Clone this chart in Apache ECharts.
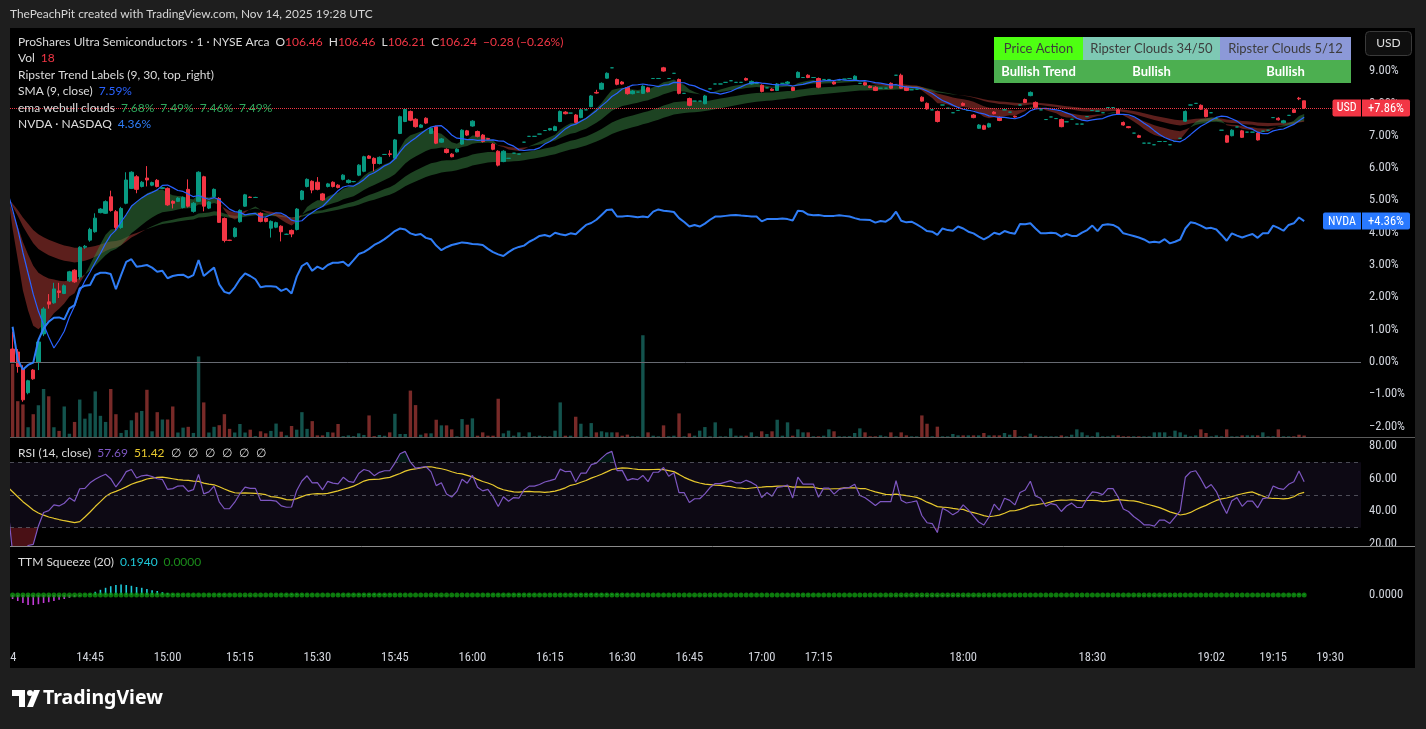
<!DOCTYPE html>
<html><head><meta charset="utf-8">
<script src="https://cdn.jsdelivr.net/npm/echarts@6/dist/echarts.min.js"></script>
<style>html,body{margin:0;padding:0;background:#1e1e1e;}#c{width:1426px;height:729px;}</style>
</head><body><div id="c"></div>
<script>
// ---------- DATA (percent change vs first bar close) ----------
// candles: [open, close, low, high]
const candles = [
[0.40,0.00,-0.02,0.94],[0.31,-0.14,-0.33,0.40],[-0.20,-1.17,-1.23,-0.10],[-0.95,-0.58,-1.00,-0.55],[-0.25,-0.52,-0.55,-0.22],
[0.00,0.62,-0.25,0.70],[0.87,1.64,0.80,1.70],[1.86,1.79,1.65,2.10],[1.83,2.26,1.80,2.45],[2.20,2.15,1.98,2.45],
[2.12,2.36,2.10,2.40],[2.51,2.79,2.48,2.82],[2.84,2.48,2.45,2.87],[2.63,3.55,2.55,3.58],[3.55,3.58,3.50,3.62],
[3.77,4.10,3.72,4.15],[4.03,4.45,4.00,4.60],[4.62,4.73,4.60,4.76],[4.60,4.96,4.58,5.00],[5.11,4.69,4.65,5.30],
[4.65,4.16,4.05,4.70],[4.16,4.75,4.12,4.80],[4.91,5.63,4.88,5.87],[5.37,5.87,5.35,5.90],[5.73,5.34,5.22,5.78],
[5.43,5.56,5.40,5.60],[5.69,5.63,5.43,6.06],[5.47,5.55,5.44,5.58],[5.62,5.43,5.40,5.66],[5.37,5.39,5.35,5.41],
[5.37,4.86,4.83,5.40],[4.97,4.91,4.75,5.00],[4.97,5.07,4.95,5.10],[4.78,5.09,4.75,5.12],[5.34,4.82,4.78,5.65],
[4.66,4.91,4.62,4.95],[4.97,5.87,4.95,5.90],[5.73,4.82,4.66,5.76],[4.76,4.95,4.73,4.98],[5.12,5.34,5.10,5.37],
[5.06,4.32,4.30,5.10],[4.44,3.76,3.70,4.47],[3.77,3.76,3.74,3.78],[3.88,4.14,3.85,4.17],[4.34,4.69,4.31,4.72],
[4.82,5.17,4.80,5.20],[5.10,5.09,5.08,5.12],[5.09,5.09,5.08,5.11],[4.60,4.35,4.32,4.63],[4.44,4.35,4.32,4.47],
[4.14,4.35,3.85,4.38],[4.17,4.31,4.14,4.34],[4.20,4.03,3.73,4.23],[3.95,3.95,3.93,3.97],[4.07,3.96,3.86,4.10],
[4.10,4.73,4.07,4.76],[5.03,5.29,5.00,5.32],[5.43,5.65,5.40,5.68],[5.59,5.32,5.22,5.62],[5.56,5.34,5.31,5.72],
[5.20,5.01,4.98,5.23],[5.43,5.51,5.40,5.54],[5.56,5.43,5.40,5.59],[5.47,5.40,5.37,5.50],[5.65,5.78,5.62,5.81],
[5.55,5.62,5.52,5.65],[5.58,5.58,5.56,5.60],[5.78,6.09,5.75,6.12],[5.90,6.35,5.87,6.38],[6.37,6.30,6.28,6.40],
[6.30,6.14,5.90,6.33],[6.14,6.33,6.11,6.36],[6.42,6.42,6.42,6.42],[6.44,6.42,6.35,6.55],[6.30,6.87,6.28,6.90],
[7.07,7.59,7.05,7.62],[7.44,7.81,7.42,7.84],[7.75,7.48,7.45,7.78],[7.51,7.28,7.25,7.54],[7.26,7.33,7.24,7.36],
[7.54,7.39,7.36,7.57],[7.07,7.23,7.05,7.26],[7.28,6.77,6.74,7.31],[6.80,6.90,6.78,6.93],[6.58,6.48,6.45,6.61],
[6.43,6.35,6.33,6.46],[6.50,6.58,6.48,6.61],[6.74,7.17,6.72,7.20],[7.15,7.02,6.99,7.18],[7.30,7.45,7.28,7.48],
[7.13,6.98,6.95,7.16],[7.02,6.82,6.79,7.05],[6.91,6.89,6.87,6.93],[6.74,6.58,6.55,6.77],[6.52,6.09,6.05,6.55],
[6.20,6.52,6.18,6.55],[6.30,6.30,6.30,6.30],[6.46,6.46,6.46,6.46],[6.43,6.43,6.43,6.43],[6.80,6.80,6.80,6.80],
[6.98,6.98,6.98,6.98],[6.98,6.98,6.98,6.98],[7.05,7.05,7.05,7.05],[7.16,7.16,7.16,7.16],[7.18,7.22,7.16,7.24],
[7.16,7.28,7.14,7.31],[7.44,7.75,7.42,7.78],[7.73,7.68,7.66,7.76],[7.70,7.70,7.70,7.70],[7.64,7.41,7.38,7.67],
[7.56,7.80,7.54,7.83],[7.80,7.80,7.80,7.80],[7.90,8.23,7.88,8.26],[8.34,8.32,8.30,8.42],[8.44,8.62,8.42,8.65],
[8.78,8.93,8.76,8.96],[9.10,9.10,9.10,9.10],[8.74,8.59,8.56,8.77],[8.66,8.60,8.58,8.69],[8.49,8.30,8.27,8.52],
[8.30,8.38,8.28,8.41],[8.35,8.35,8.35,8.35],[8.31,8.53,8.29,8.56],[8.48,8.36,8.34,8.51],[8.77,8.77,8.77,8.77],
[8.77,8.77,8.77,8.77],[9.10,9.00,8.98,9.13],[8.77,8.77,8.77,8.77],[8.93,8.93,8.93,8.93],[8.74,8.31,8.28,8.77],
[8.31,8.31,8.31,8.31],[8.15,7.94,7.91,8.18],[8.07,8.07,8.07,8.07],[8.07,8.07,8.07,8.07],[7.99,8.23,7.97,8.26],
[8.45,8.45,8.45,8.45],[8.60,8.60,8.60,8.60],[8.60,8.60,8.60,8.60],[8.65,8.65,8.65,8.65],[8.70,8.70,8.70,8.70],
[8.65,8.65,8.65,8.65],[8.65,8.65,8.65,8.65],[8.77,8.72,8.70,8.80],[8.60,8.68,8.58,8.71],[8.62,8.62,8.62,8.62],
[8.56,8.37,8.34,8.59],[8.48,8.48,8.48,8.48],[8.44,8.40,8.38,8.47],[8.40,8.60,8.38,8.63],[8.62,8.62,8.62,8.62],
[8.62,8.66,8.60,8.69],[8.49,8.40,8.38,8.52],[8.80,8.96,8.78,8.99],[8.80,8.80,8.80,8.80],[8.87,8.80,8.78,8.90],
[8.80,8.80,8.80,8.80],[8.77,8.50,8.47,8.80],[8.74,8.74,8.74,8.74],[8.74,8.74,8.74,8.74],[8.66,8.60,8.58,8.69],
[8.72,8.72,8.72,8.72],[8.75,8.75,8.75,8.75],[8.77,8.77,8.77,8.77],[8.73,8.84,8.71,8.87],[8.62,8.62,8.62,8.62],
[8.64,8.57,8.55,8.67],[8.53,8.49,8.47,8.56],[8.50,8.40,8.38,8.53],[8.47,8.47,8.47,8.47],[8.47,8.47,8.47,8.47],
[8.62,8.47,8.45,8.65],[8.87,8.87,8.87,8.87],[8.87,8.47,8.45,8.92],[8.50,8.40,8.38,8.53],[8.42,8.42,8.42,8.42],
[8.44,8.44,8.44,8.44],[8.19,8.07,8.05,8.22],[8.00,7.83,7.80,8.03],[7.80,7.80,7.80,7.80],[7.75,7.44,7.41,7.78],
[7.95,7.95,7.95,7.95],[7.85,7.85,7.85,7.85],[7.71,7.71,7.71,7.71],[7.78,7.78,7.78,7.78],[8.00,7.94,7.92,8.03],
[7.78,7.78,7.78,7.78],[7.64,7.56,7.54,7.67],[7.23,7.33,7.21,7.36],[7.31,7.20,7.18,7.34],[7.27,7.37,7.25,7.40],
[7.73,7.68,7.66,7.76],[7.57,7.47,7.45,7.60],[7.80,7.80,7.80,7.80],[7.73,7.73,7.73,7.73],[7.60,7.58,7.56,7.62],
[7.95,7.95,7.95,7.95],[8.12,8.03,8.01,8.15],[8.24,8.34,8.22,8.37],[8.03,7.88,7.86,8.06],[7.80,7.80,7.80,7.80],
[7.50,7.50,7.50,7.50],[7.58,7.58,7.58,7.58],[7.53,7.53,7.53,7.53],[7.50,7.28,7.26,7.53],[7.43,7.43,7.43,7.43],
[7.51,7.51,7.51,7.51],[7.36,7.36,7.36,7.36],[7.36,7.36,7.36,7.36],[7.59,7.59,7.59,7.59],[7.78,7.78,7.78,7.78],
[7.76,7.76,7.76,7.76],[7.71,7.71,7.71,7.71],[7.87,7.87,7.87,7.87],[7.87,7.87,7.87,7.87],[7.80,7.67,7.65,7.83],
[7.41,7.33,7.31,7.44],[7.28,7.25,7.23,7.30],[7.08,7.08,7.08,7.08],[7.00,6.95,6.93,7.03],[6.77,6.77,6.77,6.77],
[6.77,6.77,6.77,6.77],[6.72,6.72,6.72,6.72],[6.82,6.82,6.82,6.82],[6.82,6.82,6.82,6.82],[6.72,6.72,6.72,6.72],
[6.82,6.82,6.82,6.82],[6.92,6.92,6.92,6.92],[7.45,7.75,7.43,7.78],[7.95,7.95,7.95,7.95],[8.00,8.00,8.00,8.00],
[7.94,7.82,7.80,7.97],[7.80,7.59,7.57,7.83],[7.71,7.71,7.71,7.71],[7.53,7.53,7.53,7.53],[7.17,7.17,7.17,7.17],
[7.00,6.80,6.78,7.03],[7.00,7.17,6.98,7.20],[7.27,7.27,7.27,7.27],[7.15,6.95,6.93,7.18],[7.11,7.11,7.11,7.11],
[7.11,7.11,7.11,7.11],[7.08,6.87,6.85,7.11],[7.14,7.14,7.14,7.14],[7.17,7.17,7.17,7.17],[7.56,7.56,7.56,7.56],
[7.54,7.49,7.47,7.57],[7.40,7.46,7.38,7.49],[7.63,7.63,7.63,7.63],[7.80,7.72,7.70,7.83],[8.16,8.14,8.10,8.20],
[8.08,7.86,7.83,8.08]
];
const volume = [
900,440,400,120,280,390,590,500,120,75,375,40,185,460,225,290,560,260,185,590,
280,50,85,205,300,320,580,70,305,215,215,375,55,115,125,50,990,425,55,125,
145,280,100,55,160,55,90,10,70,45,75,165,65,20,135,90,305,100,195,20,
20,60,55,160,10,20,10,45,25,265,10,25,15,57,285,37,37,570,392,28,
45,45,212,143,143,94,8,220,151,229,16,57,16,16,470,45,78,16,57,8,
57,8,16,8,8,78,425,16,16,249,163,8,171,57,70,57,57,57,16,29,
8,8,1250,57,16,8,143,8,16,290,8,45,16,78,122,8,180,8,8,106,
16,16,16,57,8,70,37,70,212,16,180,16,94,57,57,8,8,16,94,70,
8,8,10,49,106,57,8,8,20,8,57,8,57,20,8,8,265,163,8,127,
8,8,37,20,20,20,20,20,49,20,20,20,49,28,86,8,8,41,20,8,
8,8,8,20,8,28,94,57,20,8,57,8,8,20,20,8,8,8,8,8,
8,57,57,57,8,78,57,28,8,20,94,49,8,20,8,94,8,8,20,20,
20,20,57,8,8,94,8,8,8,28,18
];
const nvda = [
1.09,0.06,-0.23,-0.09,-0.02,0.68,1.04,1.25,1.37,1.38,1.32,1.66,1.76,2.28,2.36,2.38,2.69,2.76,2.76,2.72,
2.25,2.69,3.10,3.18,2.95,2.97,3.00,2.92,2.79,2.82,2.59,2.66,2.69,2.70,2.61,2.69,3.15,2.66,2.79,2.92,
2.40,2.17,2.12,2.31,2.56,2.74,2.66,2.56,2.31,2.34,2.34,2.33,2.20,2.27,2.12,2.64,2.97,3.07,2.82,2.95,
2.87,3.00,3.07,3.07,3.10,2.97,3.15,3.34,3.40,3.50,3.62,3.70,3.80,3.92,4.05,4.13,4.10,3.98,3.93,3.96,
3.84,3.80,3.60,3.46,3.55,3.62,3.66,3.70,3.68,3.65,3.64,3.62,3.50,3.40,3.33,3.28,3.40,3.50,3.56,3.60,
3.72,3.80,3.90,3.93,3.88,4.00,3.95,3.92,3.98,3.95,4.10,4.24,4.30,4.40,4.55,4.70,4.72,4.50,4.50,4.52,
4.50,4.48,4.50,4.48,4.65,4.72,4.68,4.66,4.64,4.45,4.33,4.19,4.24,4.19,4.28,4.40,4.50,4.50,4.52,4.54,
4.55,4.53,4.52,4.50,4.50,4.35,4.42,4.42,4.42,4.44,4.42,4.38,4.68,4.66,4.56,4.54,4.55,4.52,4.52,4.52,
4.54,4.52,4.50,4.45,4.41,4.40,4.39,4.31,4.36,4.34,4.44,4.65,4.37,4.32,4.34,4.26,4.16,4.05,4.03,3.93,
4.13,4.08,4.06,4.19,4.13,4.03,3.98,3.88,3.79,3.88,4.00,3.95,4.05,4.00,3.97,4.27,4.26,4.29,4.13,3.98,
3.98,4.00,3.98,3.88,3.96,3.90,3.90,4.00,4.08,4.22,4.05,4.24,4.26,4.24,4.16,3.98,3.94,3.90,3.85,3.79,
3.70,3.72,3.70,3.80,3.67,3.72,3.79,4.13,4.32,4.29,4.22,4.13,4.15,4.10,3.93,3.75,3.98,3.91,3.85,3.91,
3.96,3.84,3.98,3.98,4.22,4.15,4.06,4.24,4.29,4.47,4.36
];
const ttm = [
-1.0,-1.5,-2.0,-2.5,-2.5,-2.3,-2.0,-1.8,-1.5,-1.2,-1.0,-0.7,-0.5,-0.3,0.1,0.3,0.8,1.3,1.8,2.2,
2.5,2.6,2.5,2.3,2.0,1.8,1.5,1.2,1.0,0.7,0.5,0.3,0.2,
0.15,0.12,0.10,0.08,0.06,0.10,0.15,0.20,0.18,0.12,0.05,-0.05,-0.10,-0.15,-0.12,-0.08,-0.05,0.04,0.10,0.15,
0.20,0.25,0.22,0.18,0.12,0.10,0.08,0.05,0.05,0.08,0.12,0.15,0.18,0.20,0.22,0.25,0.28,0.30,0.26,0.22,
0.18,0.15,0.12,0.10,0.06,0.03,-0.03,-0.06,-0.10,-0.12,-0.14,-0.12,-0.10,-0.08,-0.05,-0.03,0.03,0.05,0.08,0.10,
0.12,0.14,0.16,0.18,0.20,0.22,0.20,0.18,0.16,0.14,0.12,0.10,0.12,0.15,0.18,0.20,0.24,0.26,0.28,0.30,
0.32,0.30,0.28,0.26,0.22,0.18,0.15,0.12,0.10,0.08,0.06,0.05,0.06,0.08,0.06,0.04,0.02,-0.02,-0.05,-0.08,
-0.10,-0.12,-0.10,-0.08,-0.06,-0.04,-0.02,0.02,0.04,0.06,0.08,0.10,0.08,0.06,0.05,0.04,0.05,0.06,0.08,0.10,
0.12,0.10,0.08,0.06,0.05,0.04,0.03,0.02,0.02,0.03,0.02,-0.02,-0.04,-0.06,-0.08,-0.10,-0.12,-0.14,-0.16,-0.18,
-0.20,-0.22,-0.24,-0.26,-0.28,-0.30,-0.30,-0.28,-0.26,-0.24,-0.22,-0.20,-0.18,-0.16,-0.15,-0.14,-0.12,-0.10,-0.08,-0.06,
-0.05,-0.04,-0.03,-0.02,-0.02,-0.03,-0.04,-0.05,-0.06,-0.07,-0.08,-0.07,-0.06,-0.05,-0.04,-0.03,-0.02,-0.02,-0.03,-0.04,
-0.05,-0.06,-0.07,-0.08,-0.10,-0.12,-0.14,-0.15,-0.16,-0.15,-0.14,-0.12,-0.10,-0.06,-0.03,0.02,0.04,0.05,0.04,0.03,
0.02,-0.02,-0.04,-0.05,-0.04,-0.03,-0.02,-0.02,-0.03,-0.02,0.02,0.04,0.06,0.08,0.10,0.12,0.16,0.194
];
// estimated state carried in from the previous session (lines enter the view at ~5%)
const prevCloses = [5.2,5.3,5.3,5.2,5.3,5.4,5.3,5.3,5.3];
const emaLengths = [8,21,34,50];
const emaSeeds = [5.3,5.1,5.1,5.1];
const rsiSeed = [0.09,0.11];
const rsiPrior = [56,57,55,54,56,57,58,56,55,54,55,56,55];
// axis ticks
const timeTickIdx = [-0.45,15,30,44,59,74,89,104,118,131,145,156,184,209,232,244,255];
const timeTickLabels = ['14','14:45','15:00','15:15','15:30','15:45','16:00','16:15','16:30','16:45','17:00','17:15','18:00','18:30','19:02','19:15','19:30'];
const pctTicks = [-2,-1,0,1,2,3,4,5,6,7,8,9];
const rsiTicks = [20,40,60,80];
const ttmTicks = [0];
const tableHead = ['Price Action','Ripster Clouds 34/50','Ripster Clouds 5/12'];
const tableVals = ['Bullish Trend','Bullish','Bullish'];

// ---------- indicators from the closes ----------
const N = candles.length;
const closes = candles.map(c => c[1]);
function sma(len){
  const all = prevCloses.concat(closes), P = prevCloses.length, out = [];
  for (let i = -1; i < N; i++){ const j = i + P; let s = 0; for (let k = j-len+1; k <= j; k++) s += all[k]; out.push([i, s/len]); }
  return out;
}
function ema(len, seed){
  const k = 2/(len+1); let e = seed; const out = [[-1, e]];
  for (let i = 0; i < N; i++){ e = e + k*(closes[i]-e); out.push([i, e]); }
  return out;
}
const sma9 = sma(9);
const emas = emaLengths.map((L, j) => ema(L, emaSeeds[j]));
let g = rsiSeed[0], l = rsiSeed[1], prev = prevCloses[prevCloses.length-1];
const rsi = [[-1, 100*g/(g+l)]];
for (let i = 0; i < N; i++){
  const ch = closes[i]-prev; prev = closes[i];
  g = (g*13 + Math.max(ch,0))/14; l = (l*13 + Math.max(-ch,0))/14;
  rsi.push([i, l === 0 ? 100 : 100 - 100/(1+g/l)]);
}
const rv = rsiPrior.concat(rsi.map(p => p[1]));
const rsiMa = rsi.map((p, m) => { const j = m + rsiPrior.length; let s = 0; for (let k = j-13; k <= j; k++) s += rv[k]; return [p[0], s/14]; });

function bandPolys(A, B, upColor, downColor){
  const polys = [];
  let curA = [A[0]], curB = [B[0]], sign = Math.sign(A[0][1]-B[0][1]);
  for (let k = 0; k < A.length-1; k++){
    const x0=A[k][0], x1=A[k+1][0], a0=A[k][1], a1=A[k+1][1], b0=B[k][1], b1=B[k+1][1];
    const d0=a0-b0, d1=a1-b1;
    if (sign === 0) sign = Math.sign(d1);
    if (d0*d1 < 0){
      const t = d0/(d0-d1), xm = x0+t*(x1-x0), ym = a0+t*(a1-a0);
      curA.push([xm,ym]); curB.push([xm,ym]);
      polys.push({pts: curA.concat(curB.slice().reverse()), color: sign > 0 ? upColor : downColor});
      curA = [[xm,ym]]; curB = [[xm,ym]]; sign = Math.sign(d1);
    }
    curA.push([x1,a1]); curB.push([x1,b1]);
  }
  polys.push({pts: curA.concat(curB.slice().reverse()), color: sign > 0 ? upColor : downColor});
  return polys.filter(p => p.color);
}
function bandSeries(polys, xi, yi, z){
  return {type:'custom', xAxisIndex:xi, yAxisIndex:yi, clip:true, silent:true, z:z,
    data: polys.map(p => [p.pts[0][0], p.pts[0][1]]),
    renderItem: (params, api) => { const p = polys[params.dataIndex];
      return {type:'polygon', shape:{points: p.pts.map(q => api.coord(q))}, style:{fill:p.color}}; }};
}
const GREEN_FILL = 'rgba(58,134,68,0.5)', RED_FILL = 'rgba(184,62,56,0.5)';
const cloud1 = bandPolys(emas[0], emas[1], GREEN_FILL, RED_FILL);
const cloud2 = bandPolys(emas[2], emas[3], GREEN_FILL, RED_FILL);
const rsiLow = bandPolys(rsi, rsi.map(p => [p[0],30]), null, 'rgba(242,54,69,0.3)');
const rsiHigh = bandPolys(rsi, rsi.map(p => [p[0],70]), 'rgba(8,153,129,0.15)', null);

// ---------- chart ----------
const F = "Lato, 'Noto Sans', sans-serif";
const AF = "'Liberation Sans Narrow', 'Roboto Condensed', Roboto, sans-serif";
const TXT = '#d1d4dc';
const FS = 12;
const XMIN = -0.5, XMAX = 261;
const chart = echarts.init(document.getElementById('c'));
const lastClose = closes[N-1], lastNvda = nvda[nvda.length-1];
const fmtPct = v => (v < 0 ? '\u2212' : '') + Math.abs(v).toFixed(2) + '%';
const xAx = (gi, labels) => ({type:'value', gridIndex:gi, min:XMIN, max:XMAX,
  axisLine:{show:false}, axisTick:{show:false}, splitLine:{show:false},
  axisLabel: labels ? {show:true, customValues: timeTickIdx, color:TXT, fontSize:12.5, fontFamily:AF, margin:8,
    formatter: v => { const k = timeTickIdx.findIndex(t => Math.abs(t-v) < 1e-6); return k >= 0 ? timeTickLabels[k] : ''; }} : {show:false}});
const yLab = (vals, fmt) => ({show:true, customValues: vals, color:TXT, fontSize:12.5, fontFamily:AF, margin:8, formatter: fmt});

function txt(x, y, text, extra){
  return {type:'text', x:x, y:y, z:100, silent:true,
    style: Object.assign({text:text, fill:'#dcdcdc', fontSize:FS, fontFamily:F, verticalAlign:'middle', align:'left'}, extra||{})};
}
const rs = c => ({fill:c, fontSize:FS, fontFamily:F});
const rich = {w:rs('#dcdcdc'), r:rs('#f23645'), b:rs('#2962ff'), nb:rs('#2f7df6'), gr:rs('#2ea85c'),
  pu:rs('#7e57c2'), ye:rs('#e8c92e'), cy:rs('#1ec8d8'), dg:rs('#1a8a1a'), gap:{width:6}, gap2:{width:7}};
const R = (x, y, s) => txt(x, y, s, {rich: rich});

const graphics = [
  {type:'rect', z:-10, silent:true, shape:{x:10, y:28, width:1405, height:640}, style:{fill:'#000'}},
  txt(10, 14, 'ThePeachPit created with TradingView.com, Nov 14, 2025 19:28 UTC', {fill:'#d6d6d6', fontSize:11.9}),
  R(18, 42, '{w|ProShares Ultra Semiconductors · 1 · NYSE Arca}{gap|}{w|O}{r|106.46}{gap|}{w|H}{r|106.46}{gap|}{w|L}{r|106.21}{gap|}{w|C}{r|106.24}{gap|}{r|\u22120.28 (\u22120.26%)}'),
  R(18, 58.5, '{w|Vol}{gap|}{r|18}'),
  txt(18, 75, 'Ripster Trend Labels (9, 30, top_right)'),
  R(18, 91.5, '{w|SMA (9, close)}{gap|}{b|7.59%}'),
  R(18, 108, '{w|ema webull clouds}{gap|}{gr|7.68%}{gap|}{gr|7.49%}{gap|}{gr|7.46%}{gap|}{gr|7.49%}'),
  R(18, 124.5, '{w|NVDA · NASDAQ}{gap|}{nb|4.36%}'),
  R(18, 453, '{w|RSI (14, close)}{gap|}{pu|57.69}{gap|}{ye|51.42}{gap|}{w|\u2205}{gap2|}{w|\u2205}{gap2|}{w|\u2205}{gap2|}{w|\u2205}{gap2|}{w|\u2205}{gap2|}{w|\u2205}'),
  R(18, 562, '{w|TTM Squeeze (20)}{gap|}{cy|0.1940}{gap|}{dg|0.0000}'),
  // table
  {type:'rect', z:100, silent:true, shape:{x:994, y:37, width:89, height:23}, style:{fill:'#4eff12'}},
  {type:'rect', z:100, silent:true, shape:{x:1083, y:37, width:137, height:23}, style:{fill:'#7ec9b4'}},
  {type:'rect', z:100, silent:true, shape:{x:1220, y:37, width:131, height:23}, style:{fill:'#8c99d8'}},
  {type:'rect', z:100, silent:true, shape:{x:994, y:60, width:357, height:23}, style:{fill:'#4caf50'}},
  txt(1038.5, 48.5, tableHead[0], {align:'center', fill:'#3d3d3d', fontSize:13}),
  txt(1151.5, 48.5, tableHead[1], {align:'center', fill:'#3d3d3d', fontSize:13}),
  txt(1285.5, 48.5, tableHead[2], {align:'center', fill:'#3d3d3d', fontSize:13}),
  txt(1038.5, 71.5, tableVals[0], {align:'center', fill:'#ffffff', fontSize:13, fontWeight:'bold'}),
  txt(1151.5, 71.5, tableVals[1], {align:'center', fill:'#ffffff', fontSize:13, fontWeight:'bold'}),
  txt(1285.5, 71.5, tableVals[2], {align:'center', fill:'#ffffff', fontSize:13, fontWeight:'bold'}),
  // USD button
  {type:'rect', z:100, silent:true, shape:{x:1365.5, y:31.5, width:46, height:24, r:4}, style:{fill:'#0f0f0f', stroke:'#3a3a3a', lineWidth:1}},
  txt(1388.5, 43.5, 'USD', {align:'center', fill:'#e0e0e0', fontSize:12}),
  // pane separators
  {type:'line', z:100, silent:true, shape:{x1:10, y1:437.5, x2:1415, y2:437.5}, style:{stroke:'#5b5b5b', lineWidth:1}},
  {type:'rect', z:99, silent:true, shape:{x:1362, y:547, width:53, height:8}, style:{fill:'#000'}},
  {type:'line', z:100, silent:true, shape:{x1:10, y1:546.5, x2:1415, y2:546.5}, style:{stroke:'#8a8a8a', lineWidth:1}},
  // outer strips
  {type:'rect', z:100, silent:true, shape:{x:0, y:28, width:10, height:640}, style:{fill:'#1e1e1e'}},
  {type:'rect', z:100, silent:true, shape:{x:1415, y:28, width:11, height:640}, style:{fill:'#1e1e1e'}},
  // logo
  {type:'polygon', z:100, silent:true, shape:{points:[[12,690],[25,690],[25,707],[19,707],[19,696],[12,696]]}, style:{fill:'#fff'}},
  {type:'circle', z:100, silent:true, shape:{cx:30, cy:693, r:3}, style:{fill:'#fff'}},
  {type:'polygon', z:100, silent:true, shape:{points:[[27,707],[33,707],[40,690],[34,690]]}, style:{fill:'#fff'}},
  txt(43, 698.5, 'TradingView', {fill:'#ffffff', fontSize:19.5, fontWeight:'bold', fontFamily:"'Noto Sans', Lato, sans-serif"})
];

const option = {
  backgroundColor:'#1e1e1e', animation:false,
  grid:[
    {left:10, right:65, top:30, height:407},
    {left:10, right:65, top:438, height:108},
    {left:10, right:65, top:547, height:96}
  ],
  xAxis:[xAx(0,false), xAx(1,false), xAx(2,true)],
  yAxis:[
    {type:'value', gridIndex:0, position:'right', min:-2.32, max:10.27, splitLine:{show:false}, axisLine:{show:false}, axisTick:{show:false}, axisLabel: yLab(pctTicks, fmtPct)},
    {type:'value', gridIndex:0, min:0, max:5000, show:false},
    {type:'value', gridIndex:1, position:'right', min:18.8, max:84.9, splitLine:{show:false}, axisLine:{show:false}, axisTick:{show:false}, axisLabel: yLab(rsiTicks, v => v.toFixed(2))},
    {type:'value', gridIndex:2, position:'right', min:-12, max:12, splitLine:{show:false}, axisLine:{show:false}, axisTick:{show:false}, axisLabel: yLab(ttmTicks, v => v.toFixed(4))}
  ],
  series:[
    {type:'bar', xAxisIndex:0, yAxisIndex:1, barWidth:3.4, z:1, silent:true,
      data: volume.map((v,i) => ({value:[i,v], itemStyle:{color: candles[i][1] >= candles[i][0] ? 'rgba(38,166,154,0.5)' : 'rgba(239,83,80,0.5)'}}))},
    bandSeries(cloud2, 0, 0, 2),
    bandSeries(cloud1, 0, 0, 2),
    {type:'candlestick', xAxisIndex:0, yAxisIndex:0, z:3, silent:true, barWidth:3.8,
      encode:{x:0, y:[1,2,3,4]},
      data: candles.map((c,i) => [i, c[0], c[1], c[2], c[3]]),
      itemStyle:{color:'#089981', color0:'#f23645', borderColor:'#089981', borderColor0:'#f23645', borderColorDoji:'#089981', borderWidth:1},
      markLine:{silent:true, symbol:'none', label:{show:false},
        data:[{yAxis:0, lineStyle:{color:'#676a72', type:'solid', width:1}},
              {yAxis:lastClose, lineStyle:{color:'#f23645', type:'dotted', width:1}}]}},
    {type:'line', xAxisIndex:0, yAxisIndex:0, z:4, silent:true, showSymbol:false, data:sma9, lineStyle:{color:'#2962ff', width:1.2}},
    {type:'line', xAxisIndex:0, yAxisIndex:0, z:5, silent:true, showSymbol:false, data:nvda.map((v,i)=>[i,v]), lineStyle:{color:'#2f7df6', width:2}},
    // RSI pane
    {type:'line', xAxisIndex:1, yAxisIndex:2, z:1, silent:true, showSymbol:false, data:[],
      markArea:{silent:true, itemStyle:{color:'rgba(126,87,194,0.1)'}, data:[[{yAxis:30},{yAxis:70}]]},
      markLine:{silent:true, symbol:'none', label:{show:false}, lineStyle:{color:'rgba(120,123,134,0.6)', type:[4,4], width:1},
        data:[{yAxis:70},{yAxis:50},{yAxis:30}]}},
    bandSeries(rsiLow, 1, 2, 2),
    bandSeries(rsiHigh, 1, 2, 2),
    {type:'line', xAxisIndex:1, yAxisIndex:2, z:3, silent:true, showSymbol:false, data:rsiMa, lineStyle:{color:'#e8c92e', width:1.2}},
    {type:'line', xAxisIndex:1, yAxisIndex:2, z:4, silent:true, showSymbol:false, data:rsi, lineStyle:{color:'#7e57c2', width:1.2}},
    // TTM pane
    {type:'bar', xAxisIndex:2, yAxisIndex:3, barWidth:1.6, z:2, silent:true,
      data: ttm.map((v,i) => ({value:[i,v], itemStyle:{color: v >= 0 ? '#1ec8d8' : '#c13bd6'}}))},
    {type:'scatter', xAxisIndex:2, yAxisIndex:3, z:3, silent:true, symbolSize:5,
      data: ttm.map((v,i) => [i,0]), itemStyle:{color:'#0f960f'}}
  ],
  graphic:{elements: graphics}
};
chart.setOption(option);

// price tags on the right scale, placed through the axis scale
function tag(id, v, name, color, leftX){
  const y = chart.convertToPixel({yAxisIndex:0}, v);
  const s = (v >= 0 ? '+' : '\u2212') + Math.abs(v).toFixed(2) + '%';
  return [
    {id:id+'a', type:'rect', z:110, silent:true, shape:{x:leftX, y:y-8.5, width:1361-leftX, height:17, r:[2,0,0,2]}, style:{fill:color}},
    {id:id+'b', type:'rect', z:110, silent:true, shape:{x:1362, y:y-8.5, width:48, height:17, r:[0,2,2,0]}, style:{fill:color}},
    Object.assign(txt((leftX+1361)/2, y+0.5, name, {align:'center', fill:'#fff', fontSize:12, fontFamily:AF}), {id:id+'c', z:111}),
    Object.assign(txt(1386, y+0.5, s, {align:'center', fill:'#fff', fontSize:12.5, fontFamily:AF}), {id:id+'d', z:111})
  ];
}
chart.setOption({graphic:{elements: graphics.concat(tag('usd', lastClose, 'USD', '#f23645', 1332.5), tag('nv', lastNvda, 'NVDA', '#2979ff', 1323))}});
</script></body></html>
